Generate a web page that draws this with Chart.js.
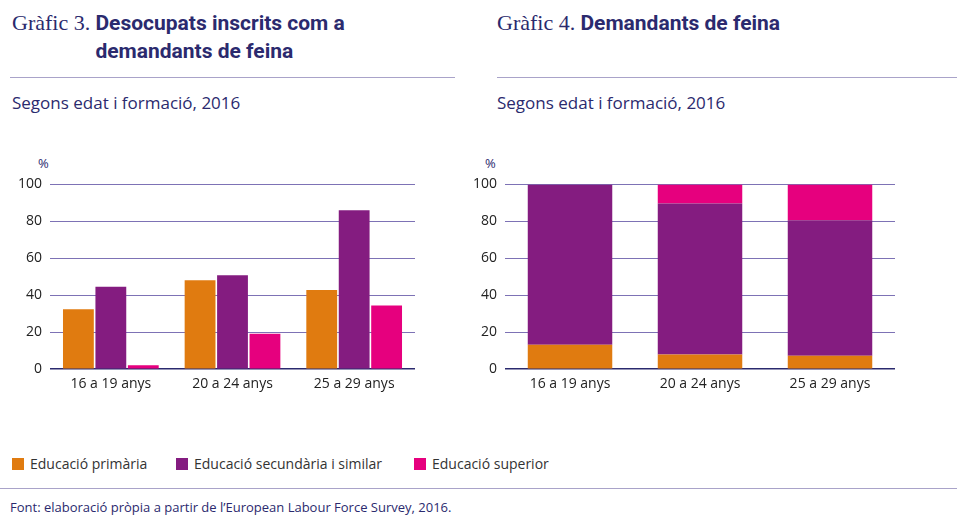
<!DOCTYPE html>
<html><head><meta charset="utf-8">
<script src="https://cdn.jsdelivr.net/npm/chart.js@4"></script>
<style>
body{margin:0;width:957px;height:523px;background:#fff;font-family:"Open Sans",sans-serif;color:#2b2a6e;position:relative;overflow:hidden}
.t{position:absolute;font-size:21px;line-height:28px;font-family:Roboto,"Open Sans",sans-serif;font-weight:bold;color:#2b2a6e}
.t span{font-family:"Liberation Serif",serif;font-weight:normal;font-size:22px}
.hr{position:absolute;height:1px;background:#a9a3c9}
.sub{position:absolute;font-size:17px;top:91px}
.pc{position:absolute;font-size:13px;top:154px}
.c{position:absolute;top:168px}
.lg{position:absolute;top:454px;font-size:14px;color:#333}
.lg i{display:inline-block;width:12px;height:12px;margin-right:6px;vertical-align:-1px}
.ft{position:absolute;top:498px;left:10px;font-size:13px;color:#2b2a6e}
</style></head><body>
<div class="t" style="left:12px;top:9px"><span>Gràfic 3.</span> Desocupats inscrits com a<br><span style="visibility:hidden">Gràfic 3.</span> demandants de feina</div>
<div class="t" style="left:497px;top:9px"><span>Gràfic 4.</span> Demandants de feina</div>
<div class="hr" style="left:10px;width:445px;top:77px"></div>
<div class="hr" style="left:497px;width:460px;top:77px"></div>
<div class="sub" style="left:12px">Segons edat i formació, 2016</div>
<div class="sub" style="left:497px">Segons edat i formació, 2016</div>
<div class="pc" style="left:38px">%</div>
<div class="pc" style="left:485px">%</div>
<div class="c" style="left:10px;width:410px;height:230px"><canvas id="g3"></canvas></div>
<div class="c" style="left:465px;width:435px;height:230px"><canvas id="g4"></canvas></div>
<div class="lg" style="left:12px"><i style="background:#e07b10"></i>Educació primària</div>
<div class="lg" style="left:176px"><i style="background:#841c80"></i>Educació secundària i similar</div>
<div class="lg" style="left:414px"><i style="background:#e6007e"></i>Educació superior</div>
<div class="hr" style="left:0;width:957px;top:488px"></div>
<div class="ft">Font: elaboració pròpia a partir de l’European Labour Force Survey, 2016.</div>
<script>
const categories = ["16 a 19 anys", "20 a 24 anys", "25 a 29 anys"];
const seriesNames = ["Educació primària", "Educació secundària i similar", "Educació superior"];
const colors = ["#e07b10", "#841c80", "#e6007e"];
// Gràfic 3
const inscritsPrimaria = [32.5, 48.1, 42.9];
const inscritsSecundaria = [44.6, 50.9, 86];
const inscritsSuperior = [2.2, 19.2, 34.5];
// Gràfic 4
const demandPrimaria = [13.2, 8, 7.3];
const demandSecundaria = [86.8, 81.7, 73.3];
const demandSuperior = [0, 10.3, 19.4];

function makeChart(id, sets, stacked, catPct, barPct) {
    new Chart(document.getElementById(id), {
        type: "bar",
        data: {
            labels: categories,
            datasets: sets.map((d, i) => ({
                label: seriesNames[i], data: d, backgroundColor: colors[i],
                categoryPercentage: catPct, barPercentage: barPct
            }))
        },
        options: {
            responsive: true, maintainAspectRatio: false, animation: false,
            layout: { padding: { top: 0, right: 5 } },
            plugins: { legend: { display: false }, tooltip: { enabled: false } },
            scales: {
                x: {
                    stacked: stacked,
                    grid: { display: false, drawTicks: false },
                    border: { display: false },
                    ticks: { color: "#222", font: { size: 14, family: "Open Sans" }, padding: 6 }
                },
                y: {
                    stacked: stacked, min: 0, max: 100,
                    ticks: { stepSize: 20, color: "#222", font: { size: 14, family: "Open Sans" }, padding: 8 },
                    grid: {
                        drawTicks: false,
                        color: ctx => ctx.tick.value === 0 ? "#2b2a6e" : "#7d72b5",
                        lineWidth: ctx => ctx.tick.value === 0 ? 1.5 : 1
                    },
                    border: { display: false }
                }
            }
        }
    });
}
makeChart("g3", [inscritsPrimaria, inscritsSecundaria, inscritsSuperior], false, 0.8, 0.95);
makeChart("g4", [demandPrimaria, demandSecundaria, demandSuperior], true, 0.65, 1);
</script>
</body></html>
